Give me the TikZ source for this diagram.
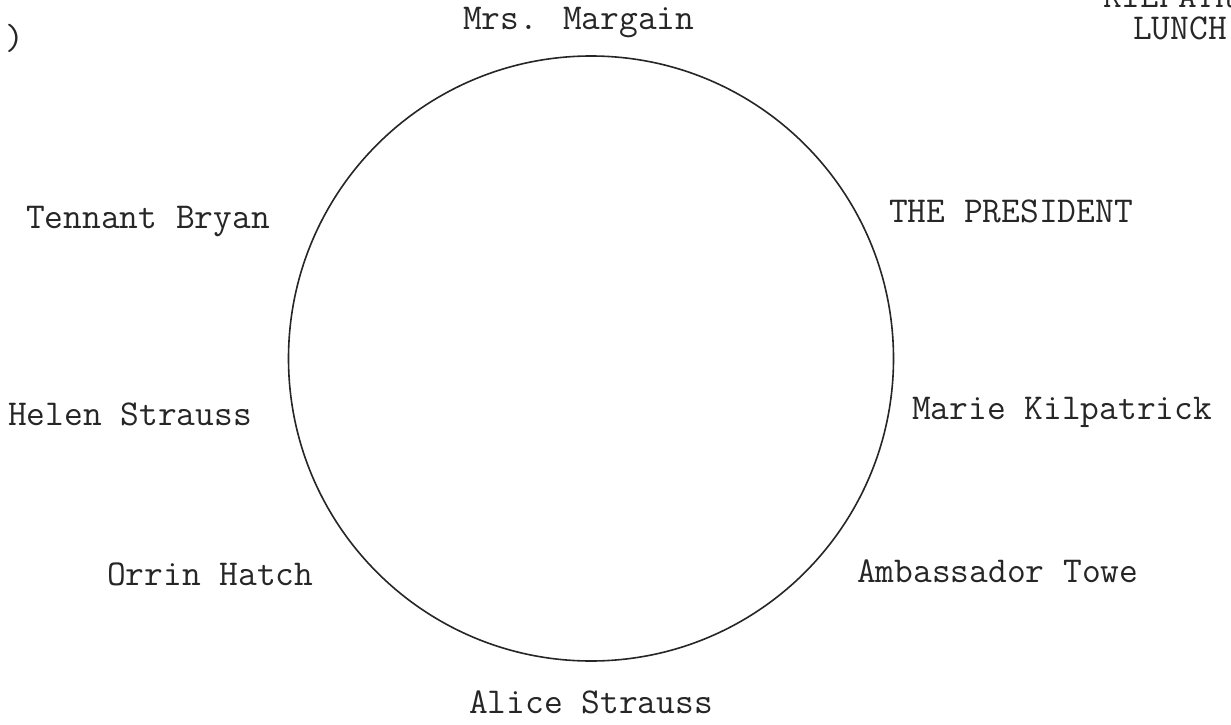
\documentclass[tikz,border=0pt]{standalone}
\begin{document}
\begin{tikzpicture}[x=1pt,y=-1pt,
  guest/.style={anchor=base west, inner sep=0pt, text=black!85,
    font=\ttfamily\fontsize{36.4}{40}\selectfont},
  tablering/.style={circle, draw=black!85, line width=1.6pt, inner sep=0pt, minimum size=605pt}]
\path[use as bounding box, clip] (0,0) rectangle (1231,725);
\fill[white] (0,0) rectangle (1231,725);
\node[tablering] (table) at (591,358.5) {};
\node[guest] (margain) at (463,30) {Mrs. Margain};
\node[guest] (president) at (889,222) {THE PRESIDENT};
\node[guest] (marie) at (912,419) {Marie Kilpatrick};
\node[guest] (towe) at (857,582) {Ambassador Towe};
\node[guest] (alice) at (469,713) {Alice Strauss};
\node[guest] (hatch) at (107,585) {Orrin Hatch};
\node[guest] (helen) at (8,425) {Helen Strauss};
\node[guest] (bryan) at (26,228) {Tennant Bryan};
\node[guest] (title1) at (1103,8) {KILPATR};
\node[guest] (title2) at (1133,40) {LUNCH};
\node[guest] (paren) at (5,50) {)};
\end{tikzpicture}
\end{document}
